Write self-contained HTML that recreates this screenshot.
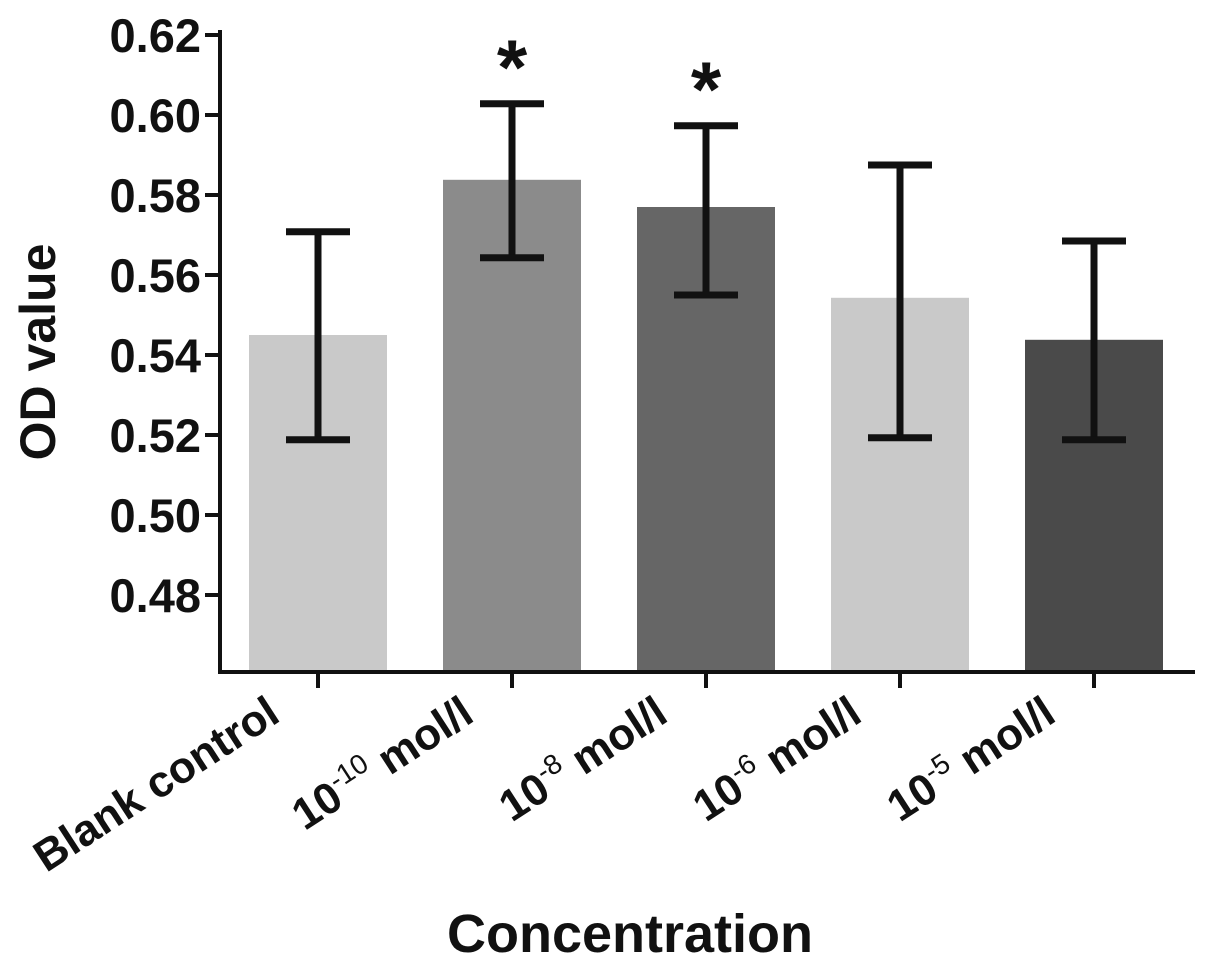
<!DOCTYPE html>
<html><head><meta charset="utf-8"><style>
html,body{margin:0;padding:0;background:#fff;}
svg text{font-family:"Liberation Sans",Arial,sans-serif;font-weight:bold;fill:#111;}
</style></head><body>
<svg id="chart" width="1205" height="965" viewBox="0 0 1205 965" xmlns="http://www.w3.org/2000/svg"></svg>
<script>
const categories=["Blank control","10-10","10-8","10-6","10-5"];
const exponents=[null,"-10","-8","-6","-5"];
const means=[0.545,0.5838,0.577,0.5543,0.5438];
const errHigh=[0.5708,0.6028,0.5973,0.5875,0.5685];
const errLow=[0.5188,0.5643,0.555,0.5193,0.5188];
const significant=[false,true,true,false,false];
const yTicks=[0.48,0.50,0.52,0.54,0.56,0.58,0.60,0.62];
const colors=["#c9c9c9","#8b8b8b","#666666","#c9c9c9","#4a4a4a"];

const NS="http://www.w3.org/2000/svg";
const svg=document.getElementById('chart');
const x0=220,x1=1195,yTop=30,yBot=672,yMin=0.46075,yMax=0.62125;
const y=v=>yBot-(v-yMin)/(yMax-yMin)*(yBot-yTop);
const band=194, xc=i=>318+i*band, bw=138;
function mk(tag,attrs,parent){const e=document.createElementNS(NS,tag);for(const k in attrs)e.setAttribute(k,attrs[k]);(parent||svg).appendChild(e);return e;}

categories.forEach((c,i)=>{
  const r=mk('rect',{x:xc(i)-bw/2,y:y(means[i]),width:bw,height:yBot-y(means[i]),fill:colors[i]});
  
  
  const g=mk('g',{stroke:'#111','stroke-width':7,fill:'none'});
  
  
  mk('line',{x1:xc(i),x2:xc(i),y1:y(errHigh[i]),y2:y(errLow[i])},g);
  mk('line',{x1:xc(i)-32,x2:xc(i)+32,y1:y(errHigh[i]),y2:y(errHigh[i])},g);
  mk('line',{x1:xc(i)-32,x2:xc(i)+32,y1:y(errLow[i]),y2:y(errLow[i])},g);
  if(significant[i]){
    const s=mk('text',{x:xc(i),y:y(errHigh[i])-10,'text-anchor':'middle','font-size':78,'font-weight':'normal'});
    s.textContent='*';
    
    
  }
  mk('line',{x1:xc(i),x2:xc(i),y1:yBot,y2:yBot+16,stroke:'#111','stroke-width':4});
  const t=mk('text',{transform:`translate(${xc(i)-36},${yBot+48}) rotate(-33)`,'text-anchor':'end','font-size':44});
  
  
  if(exponents[i]===null){t.textContent=c;}
  else{
    const a=mk('tspan',{},t);a.textContent='10';
    const b=mk('tspan',{dy:-17,'font-size':28,'font-weight':'normal'},t);b.textContent=exponents[i];
    const d=mk('tspan',{dy:17},t);d.textContent=' mol/l';
  }
});

const ax=mk('g',{stroke:'#111','stroke-width':4});


mk('line',{x1:x0,x2:x0,y1:yTop,y2:yBot+2},ax);
mk('line',{x1:x0-2,x2:x1,y1:yBot,y2:yBot},ax);
yTicks.forEach(v=>{
  mk('line',{x1:x0-15,x2:x0,y1:y(v),y2:y(v)},ax);
  const t=mk('text',{x:201,y:y(v)+17,'text-anchor':'end','font-size':47});
  t.textContent=v.toFixed(2);
  
  
});
const yt=mk('text',{transform:'translate(55,352) rotate(-90)','text-anchor':'middle','font-size':50});
yt.textContent='OD value';


const xt=mk('text',{x:630,y:952,'text-anchor':'middle','font-size':54});
xt.textContent='Concentration';


</script>
</body></html>
